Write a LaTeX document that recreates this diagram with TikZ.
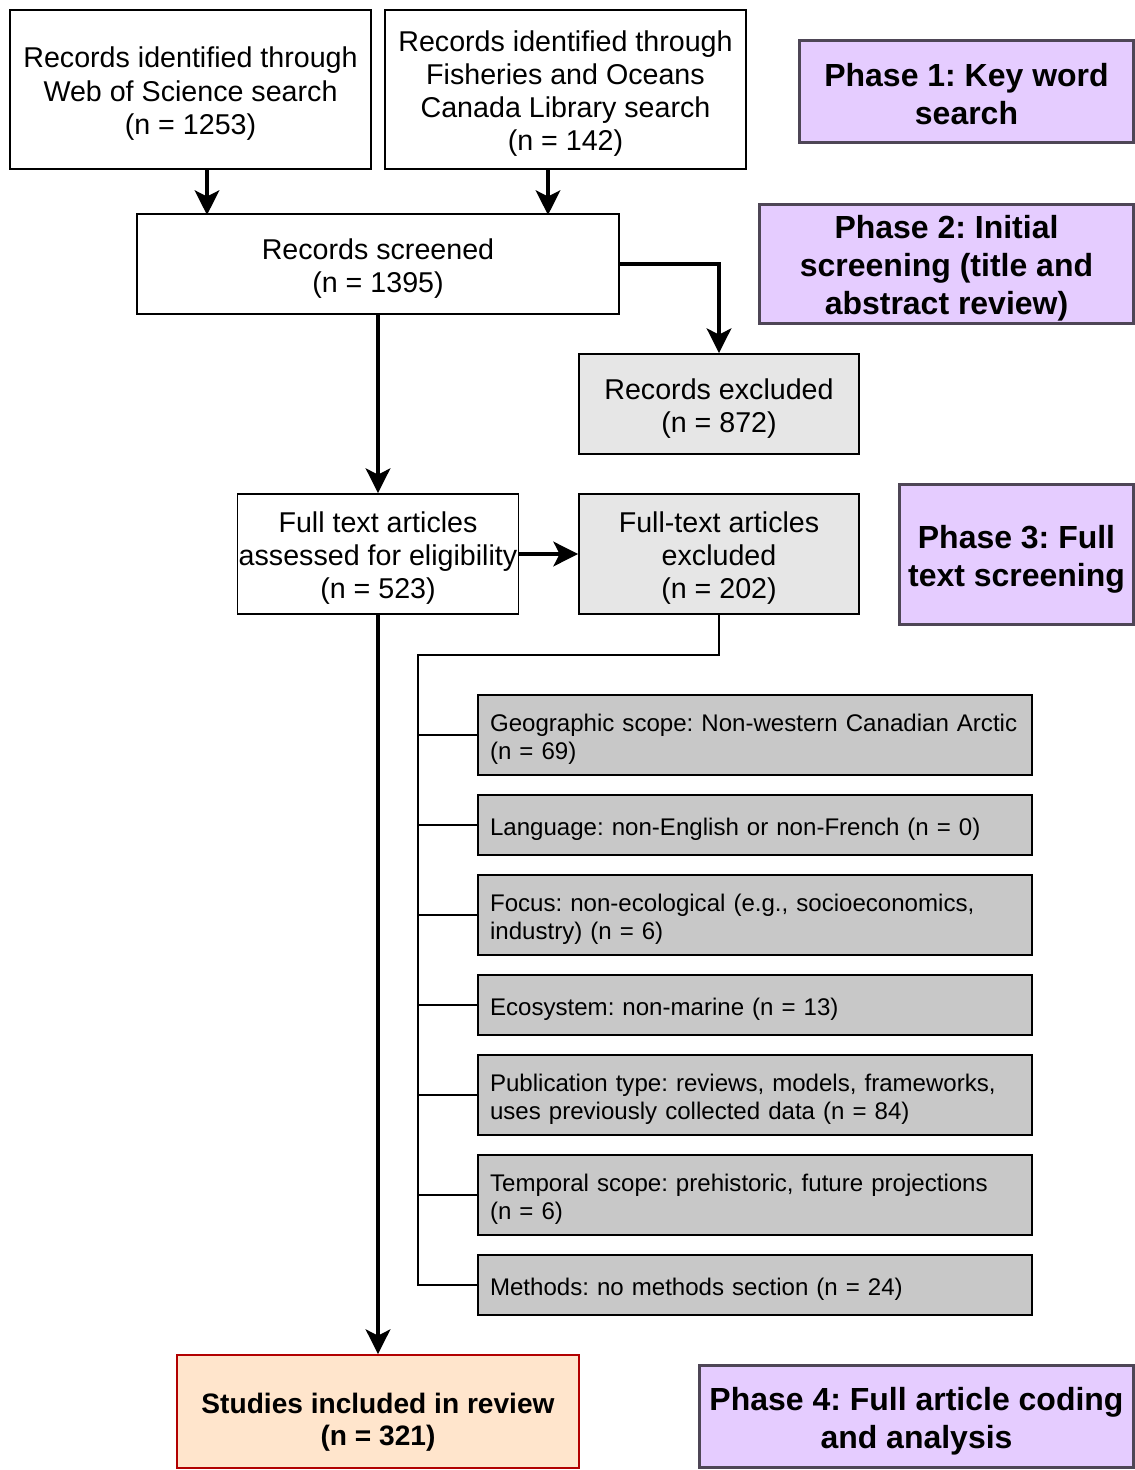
\documentclass[tikz,border=0pt]{standalone}
\usepackage{fontspec}
\setmainfont{Liberation Sans}
\usetikzlibrary{arrows.meta}
\definecolor{phasefill}{RGB}{229,204,255}
\definecolor{phaseline}{RGB}{78,70,86}
\definecolor{lightgrey}{RGB}{230,230,230}
\definecolor{listgrey}{RGB}{200,200,200}
\definecolor{inclfill}{RGB}{255,229,204}
\definecolor{inclline}{RGB}{178,0,0}
\newcommand{\toppad}[1]{\rule{0pt}{#1}}
\frenchspacing
\begin{document}
\begin{tikzpicture}[x=0.02cm, y=-0.02cm,
box/.style={draw, line width=1.1pt, inner sep=0pt, align=center, font=\fontsize{16.3}{18.8}\selectfont},
excl/.style={box, fill=lightgrey},
phase/.style={draw=phaseline, line width=1.7pt, fill=phasefill, inner sep=0pt, align=center, font=\bfseries\fontsize{18.2}{21.6}\selectfont},
reason/.style={draw, line width=1.1pt, fill=listgrey, minimum width=11.08cm, inner xsep=0.24cm, inner ysep=0pt, text width=10.6cm, align=left, font=\fontsize{13.7}{15.9}\selectfont, execute at begin node={\hyphenpenalty=10000\rule{0pt}{14.6pt}}},
arr/.style={line width=2pt, -{Stealth[length=14pt, width=14pt, inset=3.5pt]}},
link/.style={line width=1.1pt}]
\useasboundingbox (0,0) rectangle (1135,1470);

\node[box, minimum width=7.22cm, minimum height=3.18cm] (wos) at (190.5,89.5) {\toppad{16.5pt}Records identified through\\Web of Science search\\(n = 1253)};
\node[box, minimum width=7.22cm, minimum height=3.18cm] (dfo) at (565.5,89.5) {\toppad{16.5pt}Records identified through\\Fisheries and Oceans\\Canada Library search\\(n = 142)};
\node[box, minimum width=9.64cm, minimum height=2cm] (scr) at (378,264) {\toppad{16.5pt}Records screened\\(n = 1395)};
\node[excl, minimum width=5.6cm, minimum height=2cm] (exc) at (719,404) {\toppad{16.5pt}Records excluded\\(n = 872)};
\node[box, minimum width=5.62cm, minimum height=2.4cm] (full) at (378,554) {\toppad{16.5pt}Full text articles\\assessed for eligibility\\(n = 523)};
\node[excl, minimum width=5.6cm, minimum height=2.4cm] (fexc) at (719,554) {\toppad{16.5pt}Full-text articles\\excluded\\(n = 202)};
\node[box, draw=inclline, fill=inclfill, minimum width=8.04cm, minimum height=2.26cm, font=\bfseries\fontsize{16}{18.2}\selectfont] (incl) at (378,1411.5) {\toppad{23.4pt}Studies included in review\\(n = 321)};

\node[phase, minimum width=6.7cm, minimum height=2.06cm] (ph1) at (966.5,91.5) {\toppad{16.5pt}Phase 1: Key word\\search};
\node[phase, minimum width=7.5cm, minimum height=2.4cm] (ph2) at (946.5,264) {\toppad{17.5pt}Phase 2: Initial\\screening (title and\\abstract review)};
\node[phase, minimum width=4.7cm, minimum height=2.82cm] (ph3) at (1016.5,554.5) {\toppad{19pt}Phase 3: Full\\text screening};
\node[phase, minimum width=8.7cm, minimum height=2.04cm] (ph4) at (916.5,1416) {\toppad{19pt}Phase 4: Full article coding\\and analysis};

\node[reason, minimum height=1.6cm] (geo) at (755,735) {Geographic scope: Non-western Canadian Arctic\\(n = 69)};
\node[reason, minimum height=1.2cm] (lang) at (755,825) {Language: non-English or non-French (n = 0)};
\node[reason, minimum height=1.6cm] (focus) at (755,915) {Focus: non-ecological (e.g., socioeconomics,\\industry) (n = 6)};
\node[reason, minimum height=1.2cm] (eco) at (755,1005) {Ecosystem: non-marine (n = 13)};
\node[reason, minimum height=1.6cm] (pub) at (755,1095) {Publication type: reviews, models, frameworks,\\uses previously collected data (n = 84)};
\node[reason, minimum height=1.6cm] (temp) at (755,1195) {Temporal scope: prehistoric, future projections\\(n = 6)};
\node[reason, minimum height=1.2cm] (meth) at (755,1285) {Methods: no methods section (n = 24)};

\draw[arr] ([xshift=0.33cm]wos.south) -- ++(0,45);
\draw[arr] ([xshift=-0.35cm]dfo.south) -- ++(0,45);
\draw[arr] (scr.east) -| (exc.north);
\draw[arr] (scr.south) -- (full.north);
\draw[arr] (full.east) -- (fexc.west);
\draw[arr] (full.south) -- (incl.north);

\coordinate (spine) at (418,655);
\draw[link] (fexc.south) |- (spine) -- (spine |- meth.west) -- (meth.west);
\foreach \n in {geo,lang,focus,eco,pub,temp}
  \draw[link] (spine |- \n.west) -- (\n.west);
\end{tikzpicture}
\end{document}
